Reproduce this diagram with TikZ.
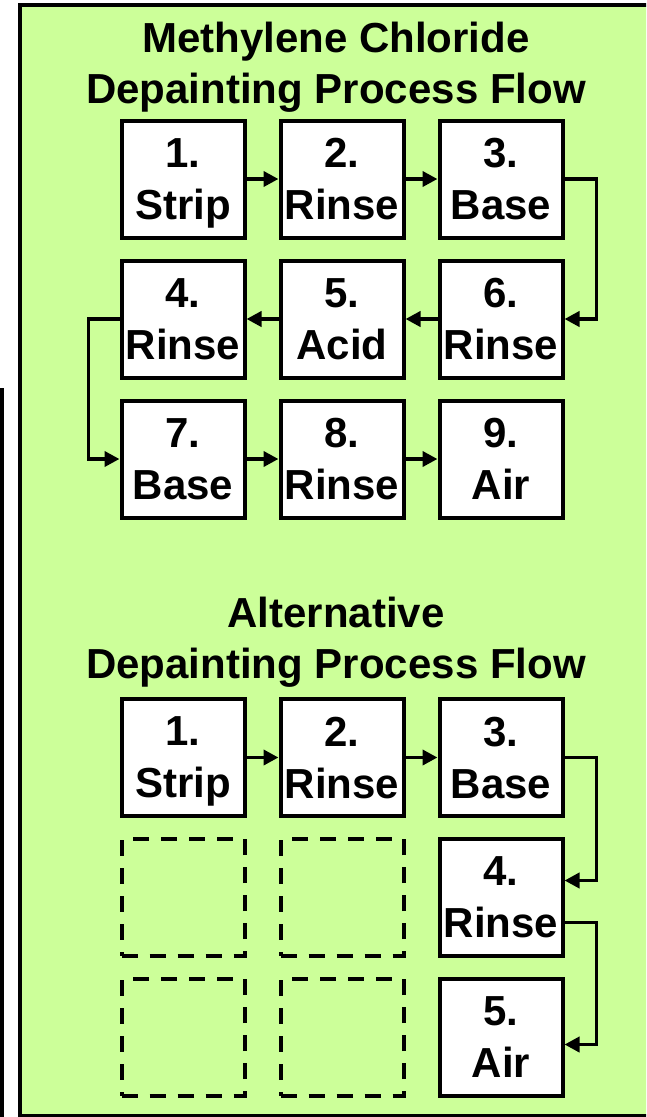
\documentclass[tikz,border=0pt]{standalone}
\usepackage{fontspec}
\setmainfont{Liberation Sans}
\usetikzlibrary{positioning, arrows.meta}
\definecolor{panelgreen}{HTML}{CCFF99}
\tikzset{
>={Triangle[length=15pt,width=15pt]}, % plain filled triangle heads
node distance=19pt and 32pt, % gaps between the step boxes
stepbox/.style={draw, line width=4pt, fill=white, minimum width=123pt, minimum height=117pt, inner sep=0pt, align=center, text depth=0pt, font=\bfseries\fontsize{42}{52}\selectfont}, % one step of a flow
emptybox/.style={stepbox, fill=none, dash pattern=on 16pt off 12pt}, % a step that is left out
heading/.style={align=center, inner sep=0pt, font=\bfseries\fontsize{42}{50.5}\selectfont}, % titles of the flows
flow/.style={->, line width=3.8pt}, % connectors between steps
}

\begin{document}
\begin{tikzpicture}[x=1pt, y=1pt]
        \clip[use as bounding box] (0,0) rectangle (646,-1117);
        \draw[line width=3.5pt] (1.75,-388) -- (1.75,-1120);
        \draw[fill=panelgreen, line width=4pt] (20,-5) rectangle (670,-1116);

        % methylene chloride flow
        \node[heading] (mctitle) at (336,-67) {Methylene Chloride\\Depainting Process Flow};
        \node[stepbox] (s1) at (183,-179) {1.\\Strip};
        \node[stepbox, right=of s1] (s2) {2.\\Rinse};
        \node[stepbox, right=of s2] (s3) {3.\\Base};
        \node[stepbox, below=of s1] (s4) {4.\\Rinse};
        \node[stepbox, right=of s4] (s5) {5.\\Acid};
        \node[stepbox, right=of s5] (s6) {6.\\Rinse};
        \node[stepbox, below=of s4] (s7) {7.\\Base};
        \node[stepbox, right=of s7] (s8) {8.\\Rinse};
        \node[stepbox, right=of s8] (s9) {9.\\Air};

        \draw[flow] (s1) -- (s2);
        \draw[flow] (s2) -- (s3);
        \draw[flow] (s3.east) -- ++(32,0) |- (s6.east);
        \draw[flow] (s6) -- (s5);
        \draw[flow] (s5) -- (s4);
        \draw[flow] (s4.west) -- ++(-31,0) |- (s7.west);
        \draw[flow] (s7) -- (s8);
        \draw[flow] (s8) -- (s9);

        % alternative flow
        \node[heading] (alttitle) at (336,-642) {Alternative\\Depainting Process Flow};
        \node[stepbox] (a1) at (183,-757.5) {1.\\Strip};
        \node[stepbox, right=of a1] (a2) {2.\\Rinse};
        \node[stepbox, right=of a2] (a3) {3.\\Base};
        \node[stepbox, below=of a3] (a4) {4.\\Rinse};
        \node[stepbox, below=of a4] (a5) {5.\\Air};
        \node[emptybox, below=of a1] (d1) {};
        \node[emptybox, below=of a2] (d2) {};
        \node[emptybox, below=of d1] (d3) {};
        \node[emptybox, below=of d2] (d4) {};

        \draw[flow] (a1) -- (a2);
        \draw[flow] (a2) -- (a3);
        \draw[flow] (a3.east) -- ++(32,0) |- ([yshift=17pt]a4.east);
        \draw[flow] ([yshift=-25pt]a4.east) -- ++(32,0) |- ([yshift=-7pt]a5.east);
\end{tikzpicture}
\end{document}
